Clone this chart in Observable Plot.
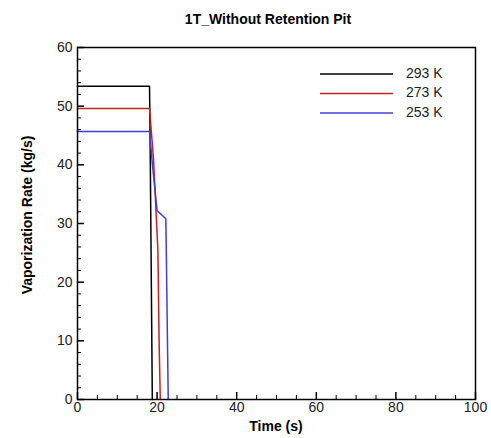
<!DOCTYPE html>
<html>
<head>
<meta charset="utf-8">
<script src="https://cdn.jsdelivr.net/npm/d3@7"></script>
<script src="https://cdn.jsdelivr.net/npm/@observablehq/plot@0.6"></script>
<style>
  body { margin: 0; background: #fff; }
  svg { font-family: "Liberation Sans", Arial, sans-serif; }
</style>
</head>
<body>
<div id="chart"></div>
<script>
const title = "1T_Without Retention Pit";
const xLabel = "Time (s)";
const yLabel = "Vaporization Rate (kg/s)";

const seriesNames = ["293 K", "273 K", "253 K"];
const seriesColors = ["#000000", "#c0232b", "#3f3fd6"];

const time293 = [0, 18.1, 18.3, 18.8];
const rate293 = [53.4, 53.4, 40, 0];
const time273 = [0, 18.1, 19.1, 20.2, 20.5, 20.8];
const rate273 = [49.6, 49.6, 41, 25.4, 10, 0];
const time253 = [0, 18.1, 18.8, 20.0, 22.2, 22.8];
const rate253 = [45.7, 45.7, 40.2, 32.2, 30.8, 0];

const xMajor = [0, 20, 40, 60, 80, 100];
const xMinor = [5, 10, 15, 25, 30, 35, 45, 50, 55, 65, 70, 75, 85, 90, 95];
const yMajor = [0, 10, 20, 30, 40, 50, 60];
const yMinor = [2, 4, 6, 8, 12, 14, 16, 18, 22, 24, 26, 28, 32, 34, 36, 38, 42, 44, 46, 48, 52, 54, 56, 58];

const times = [time293, time273, time253];
const rates = [rate293, rate273, rate253];
const rows = [];
seriesNames.forEach((s, i) => {
  times[i].forEach((t, j) => rows.push({series: s, time: t, rate: rates[i][j]}));
});

const W = 491, H = 438;
const mL = 77, mR = 16, mT = 47, mB = 39;
const innerW = W - mL - mR, innerH = H - mT - mB;
const majorLen = 7, minorLen = 4;

const chart = Plot.plot({
  width: W, height: H,
  marginLeft: mL, marginRight: mR, marginTop: mT, marginBottom: mB,
  style: {fontFamily: '"Liberation Sans", Arial, sans-serif', fontSize: "14px", color: "#222"},
  x: {domain: [0, 100], label: null},
  y: {domain: [0, 60], label: null},
  color: {domain: seriesNames, range: seriesColors},
  marks: [
    Plot.line(rows, {x: "time", y: "rate", z: "series", stroke: "series", strokeWidth: 1.5}),
    Plot.ruleX(xMajor, {insetTop: innerH - majorLen, stroke: "black", strokeWidth: 1.5}),
    Plot.ruleX(xMinor, {insetTop: innerH - minorLen, stroke: "black", strokeWidth: 1}),
    Plot.ruleY(yMajor, {insetRight: innerW - majorLen, stroke: "black", strokeWidth: 1.5}),
    Plot.ruleY(yMinor, {insetRight: innerW - minorLen, stroke: "black", strokeWidth: 1}),
    Plot.axisX(xMajor, {tickSize: 0, tickPadding: 3, fontSize: 14, label: null, tickFormat: d => String(d)}),
    Plot.axisY(yMajor, {tickSize: 0, tickPadding: 5, fontSize: 14, label: null, tickFormat: d => String(d)}),
    Plot.frame({stroke: "black", strokeWidth: 1.5})
  ]
});

document.getElementById("chart").appendChild(chart);

const svg = d3.select(chart);
svg.append("text")
  .attr("x", 268).attr("y", 20)
  .attr("text-anchor", "middle").attr("dominant-baseline", "middle")
  .attr("font-weight", "bold").attr("font-size", 14).attr("fill", "#000")
  .text(title);
svg.append("text")
  .attr("x", (mL + W - mR) / 2).attr("y", 427)
  .attr("text-anchor", "middle").attr("dominant-baseline", "middle")
  .attr("font-weight", "bold").attr("font-size", 14).attr("fill", "#000")
  .text(xLabel);
svg.append("text")
  .attr("transform", `translate(28,${(mT + H - mB) / 2 - 8}) rotate(-90)`)
  .attr("text-anchor", "middle").attr("dominant-baseline", "middle")
  .attr("font-weight", "bold").attr("font-size", 14).attr("fill", "#000")
  .text(yLabel);

const leg = svg.append("g");
seriesNames.forEach((s, i) => {
  const y = 74 + i * 19.5;
  leg.append("line").attr("x1", 320).attr("x2", 393).attr("y1", y).attr("y2", y)
    .attr("stroke", seriesColors[i]).attr("stroke-width", 1.5);
  leg.append("text").attr("x", 406).attr("y", y).attr("dominant-baseline", "middle")
    .attr("text-anchor", "start")
    .attr("font-size", 14).attr("fill", "#222").text(s);
});
</script>
</body>
</html>
